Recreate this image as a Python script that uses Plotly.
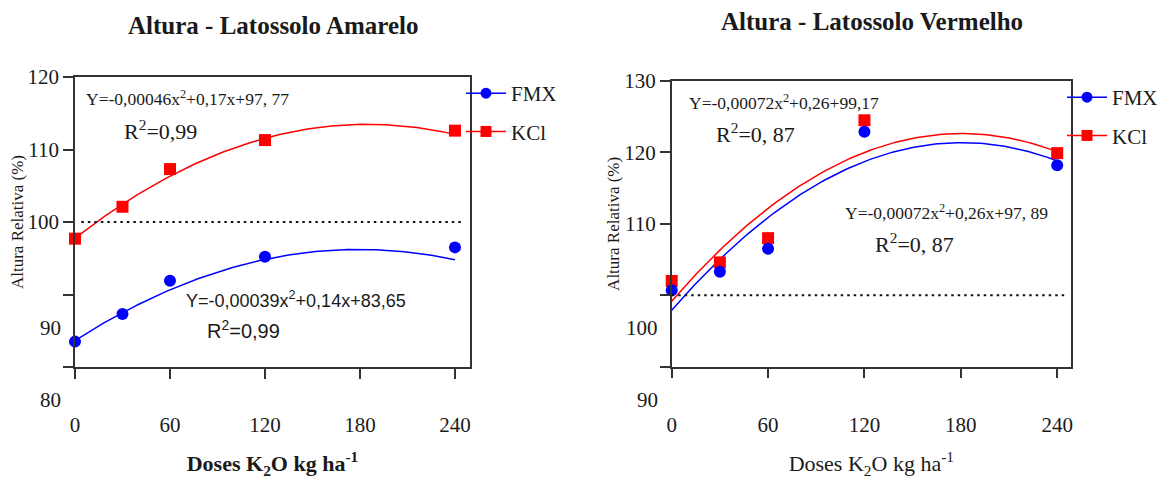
import numpy as np
import plotly.graph_objects as go

# K2O doses (kg/ha)
doses = [0, 30, 60, 120, 240]

# Latossolo Amarelo: relative height (%)
amarelo_fmx = [83.5, 87.3, 91.9, 95.2, 96.5]
amarelo_kcl = [97.7, 102.1, 107.3, 111.3, 112.6]
amarelo_fmx_coef = [-0.00039, 0.14, 83.65]
amarelo_kcl_coef = [-0.00046, 0.17, 97.77]

# Latossolo Vermelho: relative height (%)
vermelho_fmx = [100.7, 103.3, 106.5, 122.9, 118.2]
vermelho_kcl = [102.0, 104.6, 108.0, 124.5, 119.9]
vermelho_fmx_coef = [-0.00072, 0.26, 97.89]
vermelho_kcl_coef = [-0.00072, 0.26, 99.17]

x_ticks = [0, 60, 120, 180, 240]
amarelo_y_ticks = [80, 90, 100, 110, 120]
vermelho_y_ticks = [90, 100, 110, 120, 130]
reference_level = 100

W, H = 1174, 479
SERIF = "Liberation Serif"
SANS = "Liberation Sans"
BLUE = "#0000ff"
RED = "#ff0000"
AXIS = "#333333"
TEXT = "#1a1a1a"


def fx(px):
    return px / W


def fy(py):
    return 1 - py / H


fig = go.Figure()

x_fit = np.linspace(0, 240, 121)


def add_panel(xa, ya, legend, fmx, kcl, fmx_coef, kcl_coef):
    # fitted quadratic curves
    fig.add_trace(go.Scatter(x=x_fit, y=np.polyval(fmx_coef, x_fit), mode="lines",
                             line=dict(color=BLUE, width=1.5), xaxis=xa, yaxis=ya,
                             showlegend=False, hoverinfo="skip"))
    fig.add_trace(go.Scatter(x=x_fit, y=np.polyval(kcl_coef, x_fit), mode="lines",
                             line=dict(color=RED, width=1.5), xaxis=xa, yaxis=ya,
                             showlegend=False, hoverinfo="skip"))
    # observed values
    fig.add_trace(go.Scatter(x=doses, y=kcl, mode="markers",
                             marker=dict(symbol="square", size=12, color=RED),
                             xaxis=xa, yaxis=ya, showlegend=False, cliponaxis=False))
    fig.add_trace(go.Scatter(x=doses, y=fmx, mode="markers",
                             marker=dict(symbol="circle", size=12, color=BLUE),
                             xaxis=xa, yaxis=ya, showlegend=False, cliponaxis=False))
    # legend entries (line + marker)
    fig.add_trace(go.Scatter(x=[None], y=[None], mode="lines+markers", name="FMX",
                             line=dict(color=BLUE, width=1.5),
                             marker=dict(symbol="circle", size=11, color=BLUE),
                             xaxis=xa, yaxis=ya, legend=legend, legendgroup=legend + "a"))
    fig.add_trace(go.Scatter(x=[None], y=[None], mode="lines+markers", name="KCl",
                             line=dict(color=RED, width=1.5),
                             marker=dict(symbol="square", size=11, color=RED),
                             xaxis=xa, yaxis=ya, legend=legend, legendgroup=legend + "b"))


add_panel("x", "y", "legend", amarelo_fmx, amarelo_kcl, amarelo_fmx_coef, amarelo_kcl_coef)
add_panel("x2", "y2", "legend2", vermelho_fmx, vermelho_kcl, vermelho_fmx_coef, vermelho_kcl_coef)

axis_common = dict(showline=True, linecolor=AXIS, linewidth=1.5, mirror=True,
                   ticks="outside", ticklen=10, tickwidth=1.5, tickcolor=AXIS,
                   showgrid=False, zeroline=False,
                   tickfont=dict(family=SERIF, size=21, color=TEXT))

xtitle = "Doses K<sub>2</sub>O kg ha<sup>-1</sup>"

fig.update_layout(
    width=W, height=H,
    margin=dict(l=0, r=0, t=0, b=0, autoexpand=False),
    paper_bgcolor="white", plot_bgcolor="white",
    font=dict(family=SERIF, color=TEXT),
    xaxis=dict(domain=[fx(75), fx(470)], range=[0, 249.5], tickvals=x_ticks,
               ticklabelstandoff=28, anchor="y",
               title=dict(text="<b>" + xtitle + "</b>", font=dict(family=SERIF, size=22),
                          standoff=27),
               **axis_common),
    yaxis=dict(domain=[fy(367), fy(77)], range=[80, 120], tickvals=amarelo_y_ticks,
               ticktext=["", "", "100", "110", "120"], anchor="x",
               title=dict(text="Altura Relativa (%)", font=dict(family=SERIF, size=17),
                          standoff=0),
               **axis_common),
    xaxis2=dict(domain=[fx(671.7), fx(1071)], range=[0, 248.6], tickvals=x_ticks,
                ticklabelstandoff=28, anchor="y2",
                title=dict(text=xtitle, font=dict(family=SERIF, size=22), standoff=26),
                **axis_common),
    yaxis2=dict(domain=[fy(366.7), fy(81)], range=[90, 130], tickvals=vermelho_y_ticks,
                ticktext=["", "", "110", "120", "130"], anchor="x2",
                title=dict(text="Altura Relativa (%)", font=dict(family=SERIF, size=17),
                           standoff=0),
                **axis_common),
    legend=dict(x=fx(461), y=fy(73), xanchor="left", yanchor="top", itemwidth=40,
                font=dict(family=SERIF, size=21, color=TEXT), tracegroupgap=8,
                bgcolor="rgba(0,0,0,0)"),
    legend2=dict(x=fx(1062), y=fy(77), xanchor="left", yanchor="top", itemwidth=40,
                 font=dict(family=SERIF, size=21, color=TEXT), tracegroupgap=8,
                 bgcolor="rgba(0,0,0,0)"),
)

# dotted reference at 100 %
fig.add_shape(type="line", xref="x", yref="y", x0=4, x1=245,
              y0=reference_level, y1=reference_level,
              line=dict(color="#111111", width=2, dash="2.5px,4px"))
fig.add_shape(type="line", xref="x2", yref="y2", x0=0, x1=246.5,
              y0=reference_level, y1=reference_level,
              line=dict(color="#111111", width=2, dash="2.5px,4px"))

ann = []


def text_at(text, cx, cy, family, size):
    ann.append(dict(text=text, x=fx(cx), y=fy(cy), xref="paper", yref="paper",
                    xanchor="center", yanchor="middle", showarrow=False,
                    font=dict(family=family, size=size, color=TEXT)))


# panel titles
text_at("<b>Altura - Latossolo Amarelo</b>", 273.5, 25, SERIF, 25)
text_at("<b>Altura - Latossolo Vermelho</b>", 871.7, 21.7, SERIF, 25)

# lower y tick labels, set below their ticks
label_drop = 4.6
for xd, yd, ticks in (("x domain", "y domain", amarelo_y_ticks),
                      ("x2 domain", "y2 domain", vermelho_y_ticks)):
    lo, hi = ticks[0], ticks[-1]
    for v in ticks[:2]:
        ann.append(dict(text=str(v), x=0, y=(v - label_drop - lo) / (hi - lo),
                        xref=xd, yref=yd, xanchor="right", yanchor="middle",
                        xshift=-12, showarrow=False,
                        font=dict(family=SERIF, size=21, color=TEXT)))

# regression equations
text_at("Y=-0,00046x<sup>2</sup>+0,17x+97, 77", 187.8, 98.3, SERIF, 17.5)
text_at("R<sup>2</sup>=0,99", 160.8, 130, SERIF, 22)
text_at("Y=-0,00039x<sup>2</sup>+0,14x+83,65", 295.5, 299.3, SANS, 18)
text_at("R<sup>2</sup>=0,99", 243, 329.3, SANS, 20)
text_at("Y=-0,00072x<sup>2</sup>+0,26+99,17", 783.5, 101.7, SERIF, 17.5)
text_at("R<sup>2</sup>=0, 87", 755.3, 132.7, SERIF, 22)
text_at("Y=-0,00072x<sup>2</sup>+0,26x+97, 89", 946.2, 211.7, SERIF, 17.5)
text_at("R<sup>2</sup>=0, 87", 914.7, 243.3, SERIF, 22)

fig.update_layout(annotations=ann)

fig.write_html("out.html")
